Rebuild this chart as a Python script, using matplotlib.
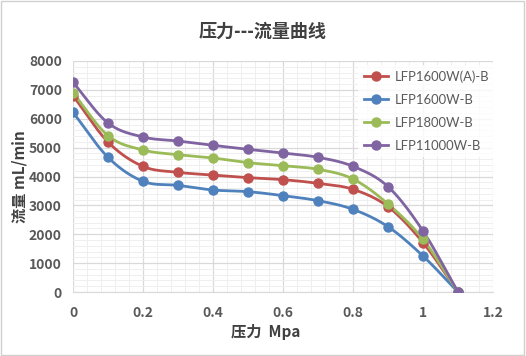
import numpy as np
import matplotlib
matplotlib.use("Agg")
import matplotlib.pyplot as plt
from matplotlib.ticker import MultipleLocator

plt.rcParams['font.family'] = ['Noto Sans CJK SC', 'DejaVu Sans']

pressure = [0, 0.1, 0.2, 0.3, 0.4, 0.5, 0.6, 0.7, 0.8, 0.9, 1.0, 1.1]
series_names = ['LFP1600W(A)-B', 'LFP1600W-B', 'LFP1800W-B', 'LFP11000W-B']
flow_a = [6800, 5195, 4350, 4145, 4050, 3960, 3890, 3763, 3556, 2955, 1710, 0]
flow_1600 = [6222, 4664, 3833, 3694, 3533, 3475, 3337, 3163, 2863, 2262, 1247, 0]
flow_1800 = [6903, 5414, 4918, 4756, 4640, 4479, 4375, 4249, 3913, 3048, 1824, 0]
flow_11000 = [7261, 5853, 5368, 5229, 5080, 4941, 4814, 4664, 4352, 3648, 2113, 0]
colors = ['#C0504D', '#4F81BD', '#9BBB59', '#8064A2']
x_ticks = [0, 0.2, 0.4, 0.6, 0.8, 1, 1.2]
x_tick_labels = ['0', '0.2', '0.4', '0.6', '0.8', '1', '1.2']
y_ticks = [0, 1000, 2000, 3000, 4000, 5000, 6000, 7000, 8000]


def catmull_rom(x, y, n=20):
    x = np.asarray(x, float); y = np.asarray(y, float)
    px = np.concatenate([[2*x[0]-x[1]], x, [2*x[-1]-x[-2]]])
    py = np.concatenate([[2*y[0]-y[1]], y, [2*y[-1]-y[-2]]])
    xs, ys = [], []
    for i in range(1, len(px)-2):
        t = np.linspace(0, 1, n, endpoint=False)
        for P, out in ((px, xs), (py, ys)):
            p0, p1, p2, p3 = P[i-1], P[i], P[i+1], P[i+2]
            c1 = p1 + (p2 - p0) / 6
            c2 = p2 - (p3 - p1) / 6
            out.extend((1-t)**3*p1 + 3*(1-t)**2*t*c1 + 3*(1-t)*t**2*c2 + t**3*p2)
    xs.append(x[-1]); ys.append(y[-1])
    return np.array(xs), np.array(ys)


fig = plt.figure(figsize=(5.26, 3.56), dpi=100)
fig.patch.set_facecolor('white')
ax = fig.add_axes([73/526, 1-292/356, 420/526, 231/356])

for name, vals, c in zip(series_names, [flow_a, flow_1600, flow_1800, flow_11000], colors):
    sx, sy = catmull_rom(pressure, vals)
    ax.plot(sx, sy, color=c, lw=2, zorder=3)
    ax.plot(pressure, vals, 'o', color=c, ms=6.5, zorder=4)
    ax.plot([], [], '-o', color=c, lw=2, ms=6.5, label=name)

ax.set_xlim(0, 1.2)
ax.set_ylim(0, 8000)
ax.set_xticks(x_ticks)
ax.set_xticklabels(x_tick_labels)
ax.set_yticks(y_ticks)
ax.xaxis.set_minor_locator(MultipleLocator(0.04))
ax.yaxis.set_minor_locator(MultipleLocator(200))
ax.grid(which='major', color='#D9D9D9', lw=0.9, zorder=0)
ax.grid(which='minor', color='#EFEFEF', lw=0.7, zorder=0)
ax.set_axisbelow(True)
for s in ['top', 'right', 'left']:
    ax.spines[s].set_visible(False)
ax.spines['bottom'].set_color('#D9D9D9')
ax.tick_params(which='both', length=0)
ax.tick_params(axis='x', pad=10)
ax.tick_params(axis='y', pad=8)
for lab in ax.get_xticklabels() + ax.get_yticklabels():
    lab.set_fontweight('bold')
    lab.set_color('#595959')
    lab.set_fontsize(10)

ax.set_xlabel('压力  Mpa', fontsize=11, fontweight='bold', color='#404040')
ax.xaxis.set_label_coords((266 - 73) / 420, (292 - 332) / 231)
ax.xaxis.label.set_va('center')
ax.set_ylabel('流量 mL/min', fontsize=11, fontweight='bold', color='#404040', labelpad=1)

fig.text(0.5, 1-31/356, '压力---流量曲线', ha='center', va='center', fontsize=13,
         fontweight='bold', color='#404040')

leg = ax.legend(loc='upper right', bbox_to_anchor=(1.012, 1.0), frameon=True,
                prop={'family': ['Lato', 'DejaVu Sans'], 'size': 9.4},
                labelspacing=0.85, handlelength=1.9, handletextpad=0.45, borderaxespad=0.3)
leg.get_frame().set_facecolor('white')
leg.get_frame().set_edgecolor('none')
for t in leg.get_texts():
    t.set_color('#595959')

border = plt.Rectangle((0.002, 0.003), 0.995, 0.994, transform=fig.transFigure,
                       fill=False, edgecolor='#D0D0D0', lw=1)
fig.patches.append(border)

fig.savefig('out.png', dpi=100)
